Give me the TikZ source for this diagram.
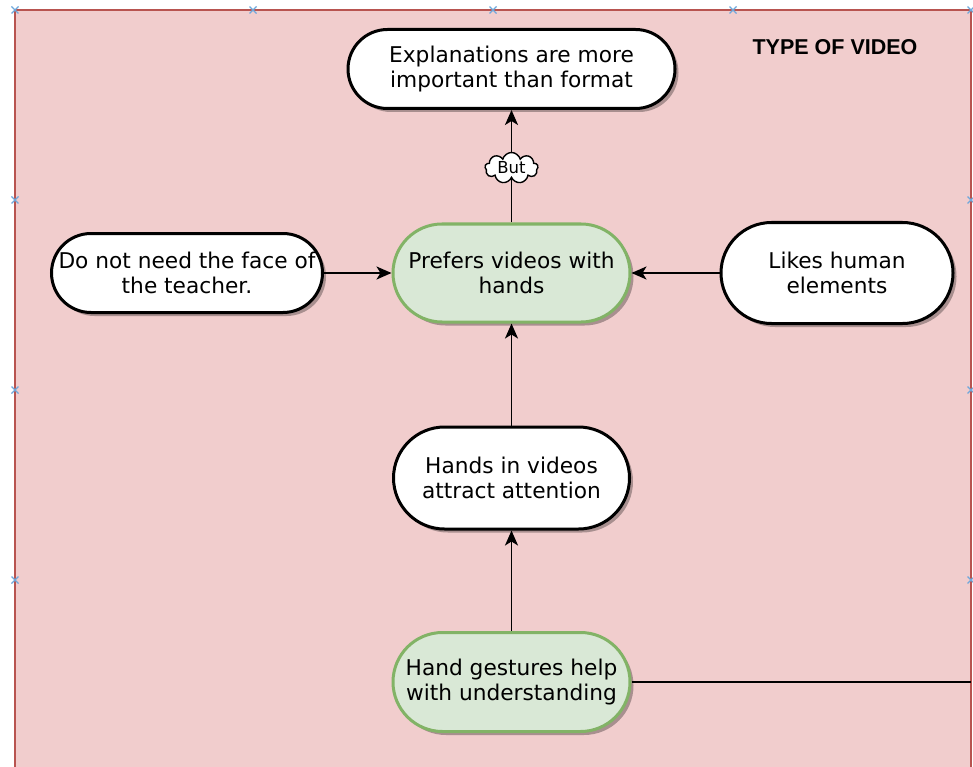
\documentclass[tikz,border=0pt]{standalone}
\usepackage{fontspec}
\setmainfont{DejaVu Sans}
\newfontfamily\headfont{Liberation Sans}
\usetikzlibrary{arrows.meta,shapes.misc,shapes.symbols,shadows}

\definecolor{panelfill}{HTML}{F1CDCD}
\definecolor{panelline}{HTML}{B85450}
\definecolor{keyfill}{HTML}{D9E8D6}
\definecolor{keyline}{HTML}{82B366}
\definecolor{handleblue}{HTML}{6FA8DC}

\begin{document}
\begin{tikzpicture}[x=1pt,y=-1pt,
  bubble/.style={rounded rectangle, draw=black, line width=3pt, fill=white,
    align=center, inner sep=0pt, font=\fontsize{21.7}{25}\selectfont,
    drop shadow={shadow xshift=3.5pt, shadow yshift=-3.5pt, opacity=0.3, fill=black}},
  keybubble/.style={bubble, draw=keyline, fill=keyfill},
  link/.style={line width=1.9pt, draw=black},
  arrowlink/.style={link, -{Stealth[length=15pt,width=13pt,inset=4pt]}},
  handle/.style={draw=handleblue, line width=1.1pt}]

  % page and panel
  \useasboundingbox (0,0) rectangle (973,767);
  \clip (0,0) rectangle (973,767);
  \fill[white] (0,0) rectangle (973,767);
  \draw[panelline, fill=panelfill, line width=1.8pt] (15,10) rectangle (971,800);

  % selection handles on the panel border
  \foreach \hx/\hy in {15/10,253/10,493/10,733/10,971/10,15/200,15/390,15/580,971/200,971/390,971/580}
    \draw[handle] (\hx-3.5,\hy-3.5) -- (\hx+3.5,\hy+3.5) (\hx-3.5,\hy+3.5) -- (\hx+3.5,\hy-3.5);

  % heading
  \node[font=\headfont\bfseries\fontsize{21.5}{25}\selectfont] (title) at (835,47) {TYPE OF VIDEO};

  % statements
  \node[bubble, minimum width=327pt, minimum height=79pt] (format) at (511.5,69) {Explanations are more\\important than format};
  \node[keybubble, minimum width=237pt, minimum height=98pt] (prefers) at (511.5,273) {Prefers videos with\\hands};
  \node[bubble, minimum width=271pt, minimum height=79pt] (face) at (187,273) {Do not need the face of\\the teacher.};
  \node[bubble, minimum width=232pt, minimum height=101pt] (human) at (837,273) {Likes human\\elements};
  \node[bubble, minimum width=236pt, minimum height=102pt] (attract) at (511.5,478) {Hands in videos\\attract attention};
  \node[keybubble, minimum width=237pt, minimum height=99pt] (gestures) at (511.5,682) {Hand gestures help\\with understanding};

  \coordinate (exit) at (971,682);

  % connectors
  \draw[arrowlink] (face.east) -- (prefers.west);
  \draw[arrowlink] (human.west) -- (prefers.east);
  \draw[arrowlink] (attract.north) -- (prefers.south);
  \draw[arrowlink] (gestures.north) -- (attract.south);
  \draw[arrowlink] (prefers.north) -- (format.south);
  \draw[link] (gestures.east) -- (exit);

  % qualifier on the upward link
  \node[cloud, cloud puffs=9, cloud ignores aspect, draw=black, line width=1.4pt, fill=white,
        minimum width=53pt, minimum height=31pt, inner sep=0pt,
        font=\fontsize{16.5}{19}\selectfont] (but) at (511.5,168) {But};
\end{tikzpicture}
\end{document}
